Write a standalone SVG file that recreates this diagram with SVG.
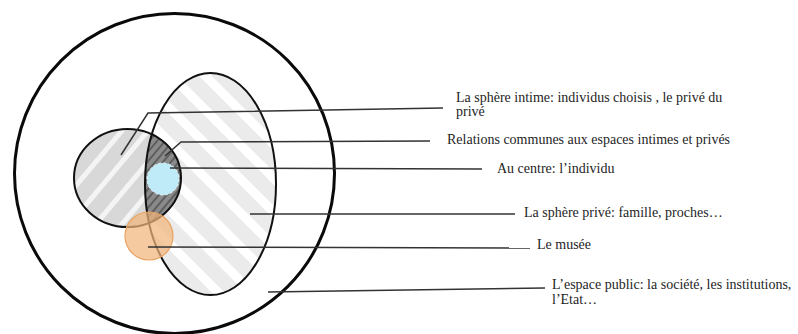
<svg xmlns="http://www.w3.org/2000/svg" width="798" height="334" viewBox="0 0 798 334">
<style>
.lbl{font-family:"Liberation Serif","Times New Roman",serif;font-size:14px;fill:#1e1e1e}
.conn{fill:none;stroke:#333;stroke-width:1.5}
.edge{fill:none;stroke:#111;stroke-width:2}
</style>
<defs>
<pattern id="hPriv" width="24" height="24" patternUnits="userSpaceOnUse" patternTransform="rotate(-45)">
<rect width="24" height="24" fill="#ffffff"/>
<rect width="15" height="24" fill="#ebebeb"/>
</pattern>
<pattern id="hInt" width="20" height="20" patternUnits="userSpaceOnUse" patternTransform="rotate(40)">
<rect width="20" height="20" fill="#f4f4f4"/>
<rect width="15" height="20" fill="#d8d8d8"/>
</pattern>
<pattern id="hLens" width="6" height="6" patternUnits="userSpaceOnUse" patternTransform="rotate(40)">
<rect width="6" height="6" fill="#8a8a8a"/>
<rect width="2" height="6" fill="#5e5e5e"/>
</pattern>
<clipPath id="clipEll"><ellipse cx="210.5" cy="184" rx="65.5" ry="111"/></clipPath>
</defs>
<rect width="798" height="334" fill="#ffffff"/>
<g id="public">
<circle cx="174.5" cy="173.5" r="160" fill="#ffffff" stroke="#0a0a0a" stroke-width="3"/>
</g>
<g id="prive">
<ellipse cx="210.5" cy="184" rx="65.5" ry="111" fill="url(#hPriv)"/>
</g>
<g id="intime">
<ellipse cx="127.5" cy="178" rx="53.5" ry="49" fill="url(#hInt)"/>
</g>
<g id="commun">
<ellipse cx="127.5" cy="178" rx="53.5" ry="49" fill="url(#hLens)" clip-path="url(#clipEll)"/>
</g>
<g id="outlines">
<ellipse class="edge" cx="210.5" cy="184" rx="65.5" ry="111"/>
<ellipse class="edge" cx="127.5" cy="178" rx="53.5" ry="49"/>
</g>
<g id="individu">
<circle cx="163" cy="179" r="16" fill="#bfeaf8" stroke="#e6f6fb" stroke-width="1" stroke-dasharray="3 2"/>
</g>
<g id="musee">
<circle cx="149" cy="236" r="24" fill="#f2b57c" fill-opacity="0.72" stroke="#e9a463" stroke-width="1.2"/>
</g>
<g id="connectors">
<polyline class="conn" points="121,155 148,113 443,108"/>
<polyline class="conn" points="165,156 181,142 430,141"/>
<line class="conn" x1="170" y1="168" x2="482" y2="169"/>
<line class="conn" x1="250" y1="214" x2="515" y2="214"/>
<line class="conn" x1="148" y1="247" x2="530" y2="248"/>
<line class="conn" x1="268" y1="292" x2="545" y2="288"/>
</g>
<g id="labels">
<text class="lbl" x="456" y="102">La sphère intime: individus choisis , le privé du</text>
<text class="lbl" x="456" y="116">privé</text>
<text class="lbl" x="447" y="144">Relations communes aux espaces intimes et privés</text>
<text class="lbl" x="497" y="173">Au centre: l’individu</text>
<text class="lbl" x="524" y="217">La sphère privé: famille, proches…</text>
<text class="lbl" x="537" y="249">Le musée</text>
<text class="lbl" x="552" y="289">L’espace public: la société, les institutions,</text>
<text class="lbl" x="552" y="304">l’Etat…</text>
</g>
</svg>
